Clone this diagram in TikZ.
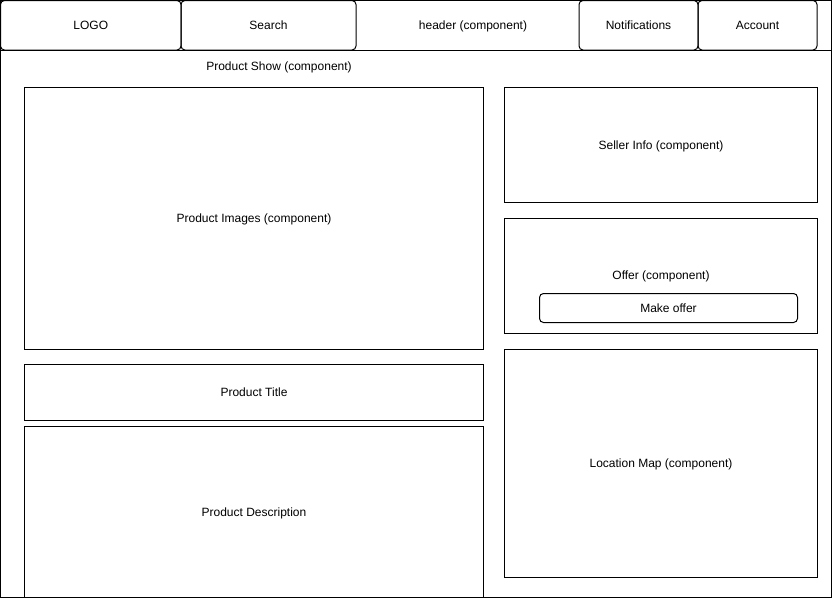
\documentclass[tikz,border=0pt]{standalone}
\usepackage{fontspec}
\setmainfont{Liberation Sans}
\begin{document}
\begin{tikzpicture}[x=1pt,y=-1pt,
  box/.style={draw=black,line width=1pt,inner sep=0pt,outer sep=0pt,text height=11pt,text depth=2.5pt,font=\fontsize{12}{14}\selectfont},
  rbox/.style={box,rounded corners=4pt},
  lbl/.style={inner sep=0pt,text height=11pt,text depth=2.5pt,font=\fontsize{12}{14}\selectfont}]
\useasboundingbox[fill=white] (0,0) rectangle (832,598);
% header
\node[box,minimum width=830.5pt,minimum height=49.5pt] (header) at (415.75,25.25) {};
\node[lbl] (headerlbl) at (473,25) {header (component)};
\node[rbox,minimum width=180.5pt,minimum height=49.5pt] (logo) at (90.75,25.25) {LOGO};
\node[rbox,minimum width=175pt,minimum height=49.5pt] (search) at (268.5,25.25) {Search};
\node[rbox,minimum width=119pt,minimum height=49.5pt] (notif) at (638.5,25.25) {Notifications};
\node[rbox,minimum width=119pt,minimum height=49.5pt] (account) at (757.5,25.25) {Account};
% product show
\node[box,minimum width=830.5pt,minimum height=547pt] (show) at (415.75,323.5) {};
\node[lbl] (showlbl) at (279,66) {Product Show (component)};
\node[box,minimum width=459pt,minimum height=262pt] (images) at (254,218.5) {Product Images (component)};
\node[box,minimum width=459pt,minimum height=56pt] (title) at (254,392.5) {Product Title};
\node[box,minimum width=459pt,minimum height=171pt] (desc) at (254,512) {Product Description};
% right column
\node[box,minimum width=313pt,minimum height=115pt] (seller) at (661,145) {Seller Info (component)};
\node[box,minimum width=313pt,minimum height=115pt] (offer) at (661,276) {};
\node[lbl] (offerlbl) at (661,275) {Offer (component)};
\node[rbox,minimum width=258pt,minimum height=29pt] (make) at (668.5,308) {Make offer};
\node[box,minimum width=313pt,minimum height=228pt] (map) at (661,463.5) {Location Map (component)};
\end{tikzpicture}
\end{document}
